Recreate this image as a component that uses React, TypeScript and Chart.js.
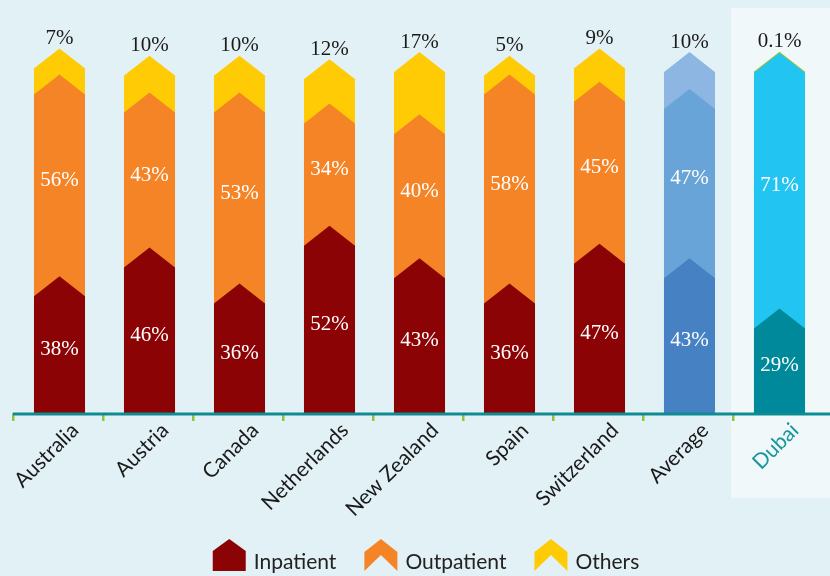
import React, { useEffect, useRef } from 'react';
import { Chart, registerables } from 'chart.js';

Chart.register(...registerables);

const categories = ['Australia', 'Austria', 'Canada', 'Netherlands', 'New Zealand', 'Spain', 'Switzerland', 'Average', 'Dubai'];
const seriesNames = ['Inpatient', 'Outpatient', 'Others'];
const inpatient = [38, 46, 36, 52, 43, 36, 47, 43, 29];
const outpatient = [56, 43, 53, 34, 40, 58, 45, 47, 71];
const others = [7, 10, 10, 12, 17, 5, 9, 10, 0.1];

const inpatientColors = ['#8B0304', '#8B0304', '#8B0304', '#8B0304', '#8B0304', '#8B0304', '#8B0304', '#4681C3', '#00899A'];
const outpatientColors = ['#F58426', '#F58426', '#F58426', '#F58426', '#F58426', '#F58426', '#F58426', '#69A4D8', '#22C4F2'];
const othersColors = ['#FFCB05', '#FFCB05', '#FFCB05', '#FFCB05', '#FFCB05', '#FFCB05', '#FFCB05', '#8DB6E2', '#8CC63F'];
const legendColors = ['#8B0304', '#F58426', '#FFCB05'];

const BG = '#E2F1F5';
const PANEL = '#F0F8FA';
const AXIS = '#0E8C94';
const TICK_GREEN = '#8CC63F';
const CHEVRON = 20;
const NUM_FONT = '21px "Liberation Serif"';
const SANS = 'Lato';

const shapesPlugin = {
  id: 'chevronShapes',
  beforeDraw(chart: any) {
    const { ctx, width, height, scales } = chart;
    ctx.save();
    ctx.fillStyle = BG;
    ctx.fillRect(0, 0, width, height);
    const xs = scales.x;
    const step = xs.width / categories.length;
    const px = xs.getPixelForValue(categories.length - 1) - step / 2 - 2;
    ctx.fillStyle = PANEL;
    ctx.fillRect(px, 8, width - px, 490);
    ctx.restore();
  },
  beforeDatasetsDraw(chart: any) {
    const { ctx } = chart;
    const zero = chart.scales.y.getPixelForValue(0);
    ctx.save();
    for (let d = chart.data.datasets.length - 1; d >= 0; d--) {
      const meta = chart.getDatasetMeta(d);
      const ds = chart.data.datasets[d];
      meta.data.forEach((el: any, i: number) => {
        const p = el.getProps(['x', 'y', 'width'], true);
        const half = p.width / 2;
        const cx = p.x + 1.5;
        const corner = Math.min(p.y + CHEVRON, zero);
        ctx.beginPath();
        ctx.moveTo(cx - half, zero);
        ctx.lineTo(cx - half, corner);
        ctx.lineTo(cx, p.y);
        ctx.lineTo(cx + half, corner);
        ctx.lineTo(cx + half, zero);
        ctx.closePath();
        const c = ds.backgroundColor[i];
        ctx.fillStyle = c;
        ctx.fill();
        if (d === 2) {
          ctx.beginPath();
          ctx.moveTo(cx - half, corner);
          ctx.lineTo(cx, p.y);
          ctx.lineTo(cx + half, corner);
          ctx.strokeStyle = c;
          ctx.lineWidth = 1.5;
          ctx.stroke();
        }
      });
    }
    ctx.restore();
    return false;
  },
  afterDraw(chart: any) {
    const { ctx, chartArea, width } = chart;
    ctx.save();
    ctx.strokeStyle = AXIS;
    ctx.lineWidth = 3;
    ctx.beginPath();
    ctx.moveTo(chartArea.left, chartArea.bottom + 1);
    ctx.lineTo(width, chartArea.bottom + 1);
    ctx.stroke();

    ctx.font = NUM_FONT;
    ctx.textAlign = 'center';
    ctx.textBaseline = 'middle';
    [0, 1].forEach((d) => {
      const meta = chart.getDatasetMeta(d);
      const vals = chart.data.datasets[d].data;
      meta.data.forEach((el: any, i: number) => {
        const p = el.getProps(['x', 'y', 'base'], true);
        ctx.fillStyle = '#FFFFFF';
        ctx.fillText(vals[i] + '%', p.x + 1.5, (p.y + p.base) / 2 + 5);
      });
    });
    const topMeta = chart.getDatasetMeta(2);
    topMeta.data.forEach((el: any, i: number) => {
      const p = el.getProps(['x', 'y'], true);
      ctx.fillStyle = '#1A1A1A';
      ctx.fillText(others[i] + '%', p.x + 1.5, p.y - 11);
    });

    ctx.font = `21px ${SANS}`;
    const ICON = 33, GAP = 8, SPACE = 28;
    const widths = seriesNames.map((n) => ctx.measureText(n).width);
    const total = widths.reduce((a, b) => a + b, 0) + seriesNames.length * (ICON + GAP) + (seriesNames.length - 1) * SPACE;
    let x = width / 2 + 11 - total / 2;
    const top = 539, bottom = 571;
    seriesNames.forEach((name, i) => {
      ctx.fillStyle = legendColors[i];
      ctx.beginPath();
      if (i === 0) {
        ctx.moveTo(x, bottom);
        ctx.lineTo(x, top + 12);
        ctx.lineTo(x + ICON / 2, top);
        ctx.lineTo(x + ICON, top + 12);
        ctx.lineTo(x + ICON, bottom);
      } else {
        ctx.moveTo(x, bottom);
        ctx.lineTo(x, top + 13);
        ctx.lineTo(x + ICON / 2, top);
        ctx.lineTo(x + ICON, top + 13);
        ctx.lineTo(x + ICON, bottom);
        ctx.lineTo(x + ICON / 2, top + 16);
      }
      ctx.closePath();
      ctx.fill();
      ctx.fillStyle = '#222222';
      ctx.textAlign = 'left';
      ctx.textBaseline = 'alphabetic';
      ctx.fillText(name, x + ICON + GAP, 569);
      x += ICON + GAP + widths[i] + SPACE;
    });
    ctx.restore();
  },
};

export default function App() {
  const ref = useRef<HTMLCanvasElement | null>(null);
  useEffect(() => {
    if (!ref.current) return;
    const chart = new Chart(ref.current, {
      type: 'bar',
      data: {
        labels: categories,
        datasets: [
          { label: seriesNames[0], data: inpatient, backgroundColor: inpatientColors },
          { label: seriesNames[1], data: outpatient, backgroundColor: outpatientColors },
          { label: seriesNames[2], data: others, backgroundColor: othersColors },
        ],
      },
      options: {
        responsive: false,
        animation: false,
        devicePixelRatio: 1,
        layout: { padding: { top: 17, left: 13, right: 7, bottom: 0 } },
        datasets: { bar: { categoryPercentage: 1, barPercentage: 0.567 } },
        plugins: { legend: { display: false }, tooltip: { enabled: false } },
        scales: {
          x: {
            stacked: true,
            border: { display: false },
            grid: {
              display: true,
              offset: true,
              drawOnChartArea: false,
              drawTicks: true,
              tickLength: 8,
              lineWidth: 2.5,
              color: (c: any) => (c.type === 'tick' ? TICK_GREEN : 'rgba(0,0,0,0)'),
            },
            ticks: {
              autoSkip: false,
              minRotation: 45,
              maxRotation: 45,
              labelOffset: 17,
              padding: -3,
              font: { family: SANS, size: 21 },
              color: (c: any) => (c.index === categories.length - 1 ? '#17979C' : '#1A1A1A'),
            },
            afterFit: (scale: any) => {
              scale.height = 163;
            },
          },
          y: { stacked: true, display: false, min: 0, max: 110 },
        },
      },
      plugins: [shapesPlugin],
    });
    return () => chart.destroy();
  }, []);
  return (
    <div style={{ position: 'fixed', left: 0, top: 0, width: 830, height: 576, background: BG }}>
      <canvas ref={ref} width={830} height={576} style={{ width: 830, height: 576, display: 'block' }} />
    </div>
  );
}
